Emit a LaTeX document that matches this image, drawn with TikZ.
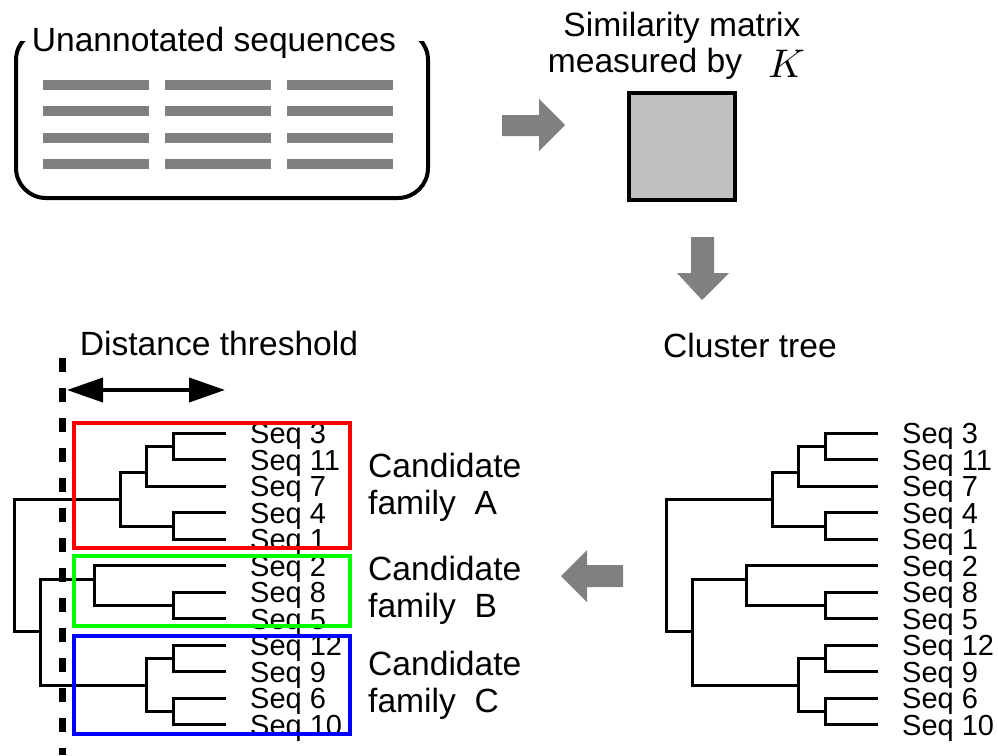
\documentclass[tikz,border=0pt]{standalone}
\usepackage{fontspec}
\usepackage{graphicx}
\setmainfont{Liberation Sans}
\usetikzlibrary{arrows.meta}
\definecolor{arrowgray}{HTML}{808080}
\definecolor{matgray}{HTML}{C0C0C0}
\definecolor{famred}{HTML}{FF0000}
\definecolor{famgreen}{HTML}{00FF00}
\definecolor{famblue}{HTML}{0000FF}
\tikzset{
  big/.style={inner sep=0pt, font=\fontsize{33.6}{38}\selectfont},
  seqlab/.style={inner sep=0pt, anchor=base west, font=\fontsize{29}{32}\selectfont},
  treeline/.style={line width=3pt, black},
  seqbar/.style={line width=10pt, arrowgray},
  blockarrow/.style={fill=arrowgray},
  fambox/.style={line width=4pt},
}
\newcommand\mydendro[2]{%
  \begin{scope}[xshift=#1pt]
    \foreach \lab [count=\i from 0] in {3,11,7,4,1,2,8,5,12,9,6,10}{
      \node[seqlab] (#2\lab) at (902,{443.5+26.5*\i}) {Seq \lab};
    }
    \draw[treeline] (878,433) -- (825,433) -- (825,459.5) -- (878,459.5);
    \draw[treeline] (825,446) -- (798,446) -- (798,486) -- (878,486);
    \draw[treeline] (878,512.5) -- (825,512.5) -- (825,539) -- (878,539);
    \draw[treeline] (798,472) -- (772,472) -- (772,526) -- (825,526);
    \draw[treeline] (772,499) -- (666,499) -- (666,631) -- (692,631);
    \draw[treeline] (878,565.5) -- (746,565.5) -- (746,605) -- (825,605);
    \draw[treeline] (878,592) -- (825,592) -- (825,618.5) -- (878,618.5);
    \draw[treeline] (746,579) -- (692,579) -- (692,685) -- (798,685);
    \draw[treeline] (878,645) -- (825,645) -- (825,671.5) -- (878,671.5);
    \draw[treeline] (878,698) -- (825,698) -- (825,724.5) -- (878,724.5);
    \draw[treeline] (825,658) -- (798,658) -- (798,711) -- (825,711);
  \end{scope}}
\begin{document}
\begin{tikzpicture}[x=1pt,y=-1pt]
\useasboundingbox (0,0) rectangle (998,755);

% --- unannotated sequences box ---
\begin{scope}
  \clip (0,41) rectangle (998,210);
  \draw[line width=4pt, rounded corners=30pt] (16,30) rectangle (428,198);
\end{scope}
\node[big, anchor=base] (unann) at (214,51) {Unannotated sequences};
\foreach \yy in {85,111,138,164}{
  \draw[seqbar] (43,\yy) -- (149,\yy);
  \draw[seqbar] (165,\yy) -- (271,\yy);
  \draw[seqbar] (287,\yy) -- (393,\yy);
}

% --- arrow right ---
\fill[blockarrow] (502,115) -- (539,115) -- (539,99) -- (565,125) -- (539,151) -- (539,136) -- (502,136) -- cycle;

% --- similarity matrix ---
\node[big, anchor=base] (sim1) at (682,36) {Similarity matrix};
\node[big, anchor=base] (sim2) at (645,72) {measured by};
\node[inner sep=0pt, anchor=base west] (kay) at (768,77) {\scalebox{4}{$K$}};
\draw[line width=4pt, fill=matgray] (629,93) rectangle (735,200);

% --- arrow down ---
\fill[blockarrow] (691,237) -- (714,237) -- (714,273) -- (729,273) -- (702,300) -- (677,273) -- (691,273) -- cycle;

% --- labels ---
\node[big, anchor=base] (clus) at (750,357) {Cluster tree};
\node[big, anchor=base] (dist) at (219,355) {Distance threshold};

% --- trees ---
\mydendro{0}{r}
\mydendro{-652}{l}

% --- arrow left ---
\fill[blockarrow] (623,565) -- (587,565) -- (587,550) -- (561,576) -- (587,602) -- (587,587) -- (623,587) -- cycle;

% --- family boxes ---
\draw[fambox, famred] (74,423) rectangle (350,548);
\draw[fambox, famgreen] (74,555.5) rectangle (350,626);
\draw[fambox, famblue] (74,635.5) rectangle (350,733.5);

\node[big, anchor=base west] (candA1) at (368,477) {Candidate};
\node[big, anchor=base west] (candA2) at (368,514) {family\ \ A};
\node[big, anchor=base west] (candB1) at (368,580) {Candidate};
\node[big, anchor=base west] (candB2) at (368,617) {family\ \ B};
\node[big, anchor=base west] (candC1) at (368,675) {Candidate};
\node[big, anchor=base west] (candC2) at (368,712) {family\ \ C};

% --- distance threshold ---
\coordinate (thL) at (67,390);
\coordinate (thR) at (225,390);
\draw[line width=4pt, {Triangle[length=36pt,width=24pt]}-{Triangle[length=36pt,width=24pt]}] (thL) -- (thR);
\coordinate (cutT) at (62,358);
\coordinate (cutB) at (62,755);
\draw[line width=7pt, dash pattern=on 14pt off 16pt] (cutT) -- (cutB);
\end{tikzpicture}
\end{document}
